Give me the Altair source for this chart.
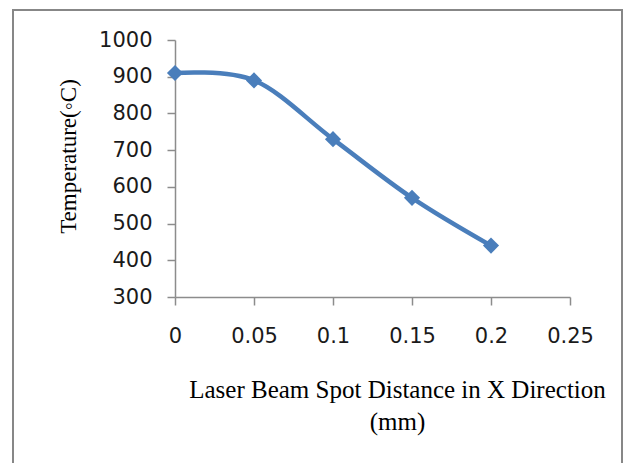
import altair as alt
import pandas as pd

# Data
distance_mm = [0.0, 0.05, 0.10, 0.15, 0.20]
temperature_c = [910, 890, 730, 570, 440]

x_ticks = [0, 0.05, 0.1, 0.15, 0.2, 0.25]
y_ticks = [300, 400, 500, 600, 700, 800, 900, 1000]

df = pd.DataFrame({"x": distance_mm, "y": temperature_c})

BLUE = "#4A7EBB"
GRAY = "#8C8C8C"

x_enc = alt.X(
    "x:Q",
    scale=alt.Scale(domain=[0, 0.25], nice=False, zero=False),
    axis=alt.Axis(
        values=x_ticks,
        format="~g",
        title=["Laser Beam Spot Distance in X Direction", "(mm)"],
        titleFont="Liberation Serif",
        titleFontSize=25,
        titleFontWeight="normal",
        titleColor="#000000",
        titleLineHeight=32,
        titleBaseline="alphabetic",
        titleAlign="center",
        titleX=222,
        titleY=100,
        labelFont="DejaVu Sans",
        labelFontSize=21,
        labelColor="#1a1a1a",
        labelPadding=20,
        tickSize=8,
        tickColor=GRAY,
        tickWidth=1.5,
        domainColor=GRAY,
        domainWidth=1.5,
        grid=False,
        labelFlush=False,
        labelOverlap=False,
    ),
)
y_enc = alt.Y(
    "y:Q",
    scale=alt.Scale(domain=[300, 1000], nice=False, zero=False),
    axis=alt.Axis(
        values=y_ticks,
        format="d",
        title="Temperature(\u25e6C)",
        titleFont="Liberation Serif",
        titleFontSize=23,
        titleFontWeight="normal",
        titleColor="#000000",
        titleBaseline="alphabetic",
        titleAlign="center",
        titleAngle=270,
        titleX=-100,
        titleY=116,
        labelFont="DejaVu Sans",
        labelFontSize=21,
        labelColor="#1a1a1a",
        labelPadding=15,
        tickSize=8,
        tickColor=GRAY,
        tickWidth=1.5,
        domainColor=GRAY,
        domainWidth=1.5,
        grid=False,
        labelOverlap=False,
    ),
)

base = alt.Chart(df).encode(x=x_enc, y=y_enc)

line = base.mark_line(interpolate="cardinal", color=BLUE, strokeWidth=4.5)

points = base.mark_point(
    shape="diamond", filled=True, color=BLUE, size=260, opacity=1
)

border = alt.Chart(pd.DataFrame({"a": [0]})).mark_rect(
    filled=False, stroke="#878787", strokeWidth=2
).encode(
    x=alt.value(-162), x2=alt.value(447), y=alt.value(-30), y2=alt.value(460)
)

chart = alt.layer(line, points, border).properties(
    width=395,
    height=257,
    autosize=alt.AutoSizeParams(type="none"),
    padding={"left": 175, "top": 40, "right": 61, "bottom": 166},
    background="white",
).configure_view(strokeWidth=0)

chart.save("out.html", embed_options={"renderer": "svg", "actions": False})
